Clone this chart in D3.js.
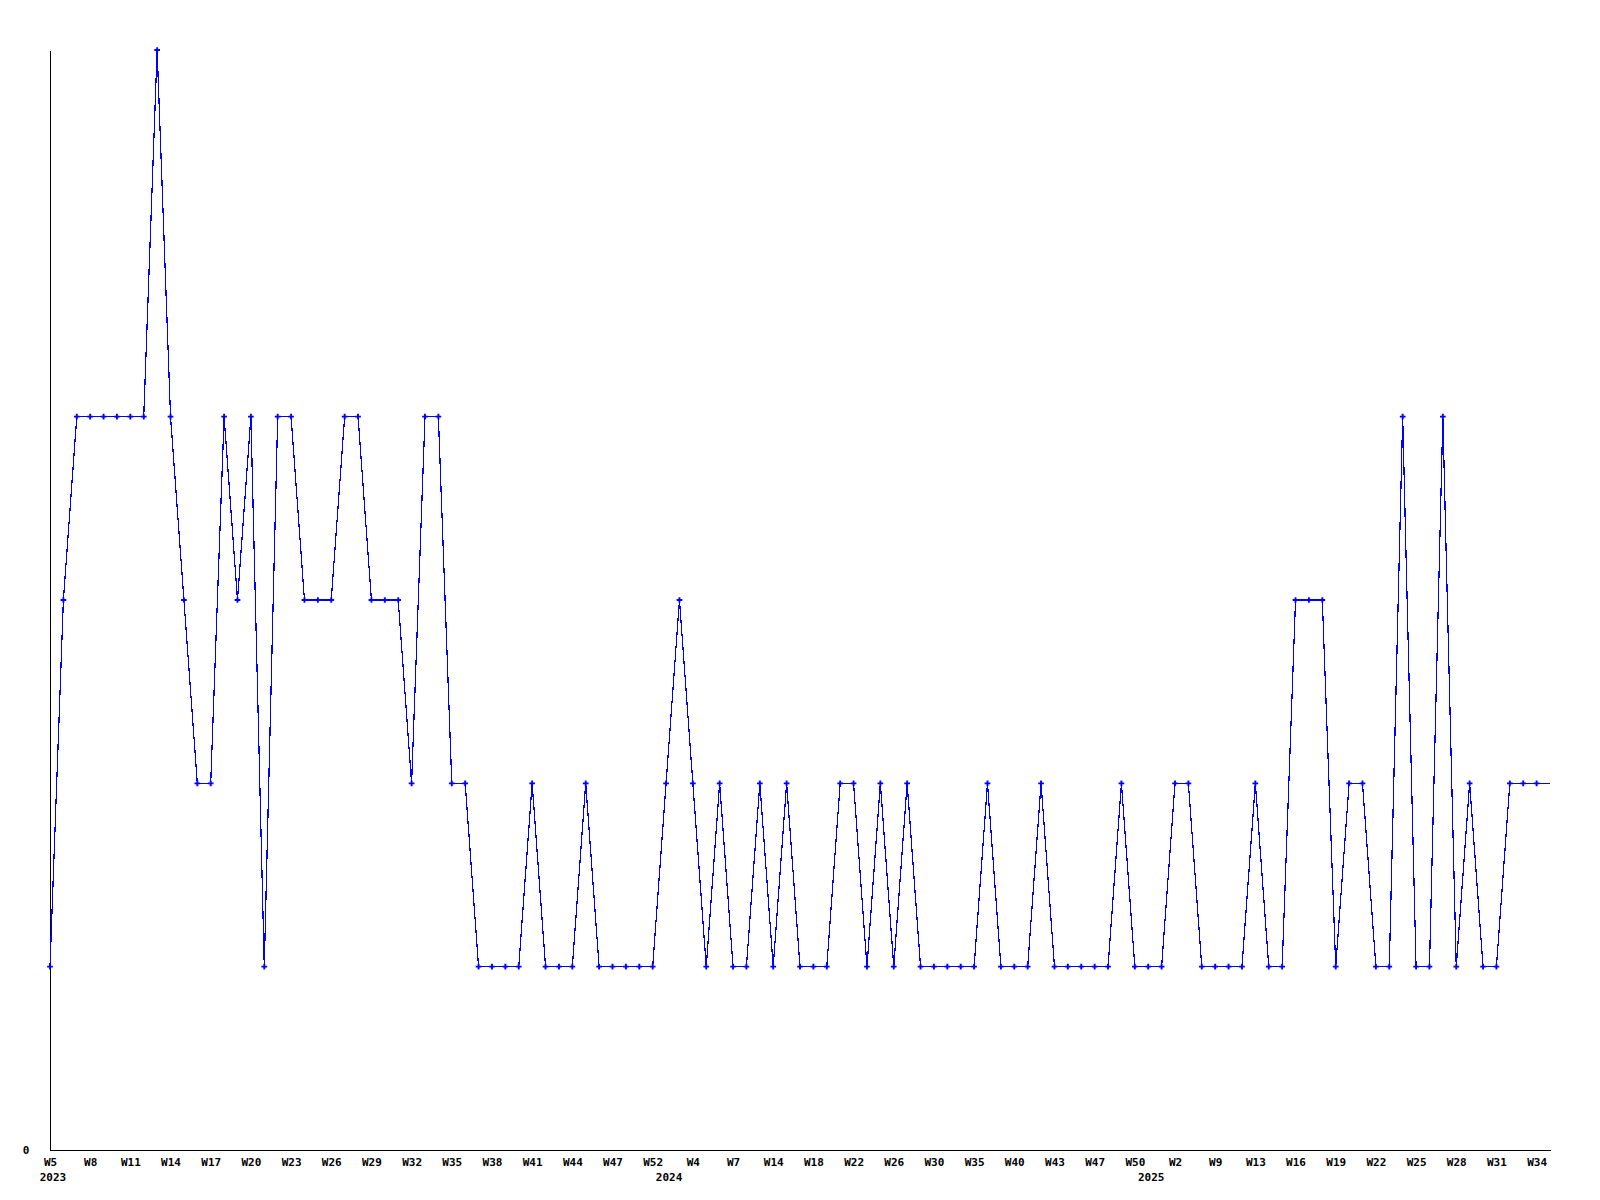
<!DOCTYPE html>
<html>
<head>
<meta charset="utf-8">
<script src="https://cdn.jsdelivr.net/npm/d3@7"></script>
<style>
  html, body { margin: 0; padding: 0; background: #ffffff; }
  svg { display: block; }
  text { font-family: "DejaVu Sans Mono", "Liberation Mono", monospace; font-weight: bold; font-size: 11px; fill: #000; }
</style>
</head>
<body>
<svg id="chart" width="1600" height="1200"></svg>
<script>
// Weekly values, one per point
const values = [
  1,3,4,4,4,4,4,4,6,4,3,2,2,4,3,4,1,4,4,
  3,3,3,4,4,3,3,3,2,4,4,2,2,1,1,1,1,2,1,
  1,1,2,1,1,1,1,1,2,3,2,1,2,1,1,2,1,2,1,
  1,1,2,2,1,2,1,2,1,1,1,1,1,2,1,1,1,2,
  1,1,1,1,1,2,1,1,1,2,2,1,1,1,1,2,1,1,3,
  3,3,1,2,2,1,1,4,1,1,4,1,2,1,1,2,2,2,2
];
// Week tick labels, shown on every 3rd point
const weekTicks = ["W5","W8","W11","W14","W17","W20","W23","W26","W29","W32","W35","W38","W41","W44","W47","W52",
  "W4","W7","W14","W18","W22","W26","W30","W35","W40","W43","W47","W50",
  "W2","W9","W13","W16","W19","W22","W25","W28","W31","W34"];
const tickEvery = 3;
// Year labels and the point index where each year starts
const yearLabels = ["2023","2024","2025"];
const yearStartIndex = [0,46,82];
const yTicks = [0];
const yMax = 6;

const svg = d3.select("#chart");
const mLeft = 50, mRight = 1550, mTop = 50, mBottom = 1150;

const x = d3.scaleLinear().domain([0, values.length - 1]).range([mLeft, mRight]);
const y = d3.scaleLinear().domain([0, yMax]).range([mBottom, mTop]);

// X axis
const xAxis = d3.axisBottom(x)
  .tickValues(weekTicks.map((d, i) => i * tickEvery))
  .tickFormat((d, i) => weekTicks[i])
  .tickSize(0).tickSizeOuter(0);
const gx = svg.append("g").attr("transform", `translate(0,${mBottom})`).call(xAxis);
gx.attr("font-family", null).attr("font-size", null);
gx.select(".domain").attr("stroke", "#000").attr("shape-rendering", "crispEdges");
gx.selectAll("text").attr("y", 12).attr("dy", "0.35em");

// Year labels
svg.append("g").selectAll("text").data(yearLabels).join("text")
  .attr("x", (d, i) => x(yearStartIndex[i]) + 3)
  .attr("y", mBottom + 27)
  .attr("dy", "0.35em")
  .attr("text-anchor", "middle")
  .text(d => d);

// Y axis
const yAxis = d3.axisLeft(y).tickValues(yTicks).tickFormat(d3.format("d"))
  .tickSize(0).tickSizeOuter(0).tickPadding(24);
const gy = svg.append("g").attr("transform", `translate(${mLeft},0)`).call(yAxis);
gy.attr("font-family", null).attr("font-size", null);
gy.select(".domain").attr("stroke", "#000").attr("shape-rendering", "crispEdges");
gy.selectAll("text").attr("text-anchor", "middle").attr("dx", "0");

// Line
const line = d3.line().x((d, i) => x(i)).y(d => y(d));
svg.append("path")
  .datum(values)
  .attr("d", line)
  .attr("fill", "none")
  .attr("stroke", "#0000ff")
  .attr("stroke-width", 1.2)
  .attr("shape-rendering", "crispEdges");

// Markers (all but the last, open week)
const sym = d3.symbol().type(d3.symbolCross).size(18);
svg.append("g").selectAll("path")
  .data(values.slice(0, values.length - 1))
  .join("path")
  .attr("transform", (d, i) => `translate(${x(i)},${y(d)})`)
  .attr("d", sym)
  .attr("fill", "#0000ff");
</script>
</body>
</html>
